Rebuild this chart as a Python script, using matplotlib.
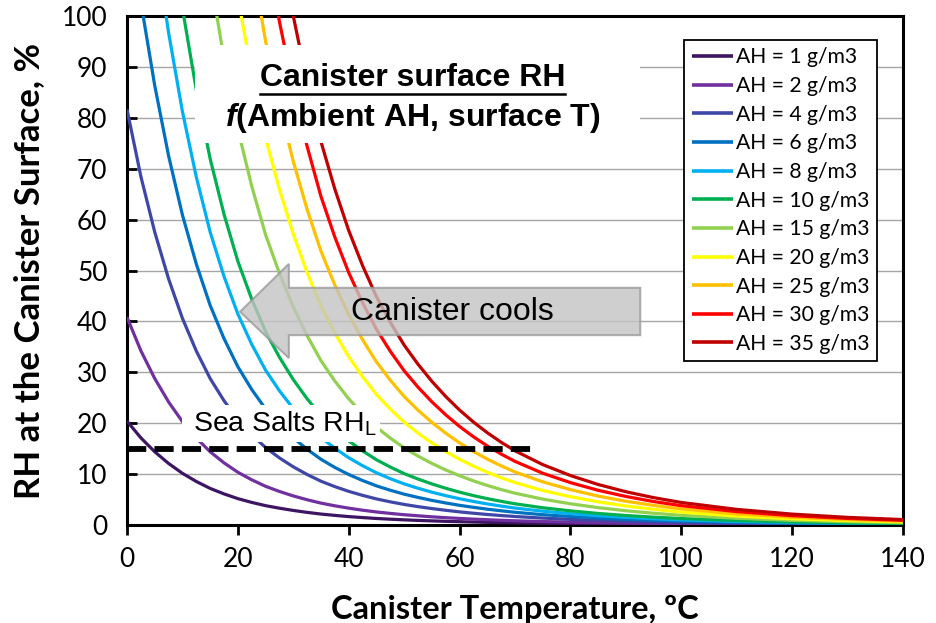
import numpy as np
import matplotlib
matplotlib.use("Agg")
import matplotlib.pyplot as plt
from matplotlib.patches import Polygon, Rectangle
from matplotlib.lines import Line2D

nan = np.nan

# surface temperature, degC
temp_c = [0, 2.5, 5, 7.5, 10, 12.5, 15, 17.5, 20, 22.5, 25, 27.5, 30, 32.5, 35,
          37.5, 40, 42.5, 45, 47.5, 50, 52.5, 55, 57.5, 60, 62.5, 65, 67.5, 70,
          75, 80, 85, 90, 95, 100, 110, 120, 130, 140]

# RH at the canister surface (%) for each ambient absolute humidity
rh_ah1 = [20.41, 17.12, 14.39, 12.09, 10.15, 8.55, 7.19, 6.11, 5.18, 4.44, 3.80, 3.30,
          2.86, 2.48, 2.15, 1.89, 1.65, 1.46, 1.28, 1.14, 1.01, 0.90, 0.81, 0.72, 0.65,
          0.58, 0.52, 0.46, 0.42, 0.34, 0.28, 0.23, 0.19, 0.15, 0.13, 0.09, 0.06, 0.04, 0.03]
rh_ah2 = [40.82, 34.24, 28.78, 24.18, 20.30, 17.09, 14.39, 12.21, 10.36, 8.88, 7.60, 6.59,
          5.71, 4.96, 4.30, 3.77, 3.31, 2.91, 2.56, 2.28, 2.02, 1.81, 1.61, 1.44, 1.29,
          1.16, 1.04, 0.93, 0.83, 0.68, 0.56, 0.45, 0.37, 0.31, 0.25, 0.18, 0.12, 0.09, 0.06]
rh_ah4 = [81.64, 68.48, 57.56, 48.36, 40.60, 34.19, 28.78, 24.42, 20.72, 17.75, 15.21, 13.18,
          11.43, 9.92, 8.60, 7.54, 6.61, 5.82, 5.13, 4.55, 4.04, 3.61, 3.23, 2.89, 2.58,
          2.31, 2.07, 1.86, 1.67, 1.36, 1.11, 0.91, 0.75, 0.62, 0.51, 0.35, 0.24, 0.17, 0.12]
rh_ah6 = [nan, 102.72, 86.34, 72.54, 60.90, 51.28, 43.16, 36.63, 31.09, 26.63, 22.81, 19.78,
          17.14, 14.87, 12.91, 11.31, 9.92, 8.74, 7.69, 6.83, 6.06, 5.42, 4.84, 4.33, 3.87,
          3.47, 3.11, 2.79, 2.50, 2.03, 1.67, 1.36, 1.12, 0.92, 0.76, 0.53, 0.37, 0.26, 0.18]
rh_ah8 = [nan, nan, 115.12, 96.72, 81.20, 68.38, 57.55, 48.84, 41.45, 35.50, 30.42, 26.37,
          22.86, 19.83, 17.21, 15.08, 13.22, 11.65, 10.26, 9.10, 8.08, 7.22, 6.45, 5.77, 5.16,
          4.62, 4.14, 3.72, 3.33, 2.71, 2.22, 1.82, 1.50, 1.23, 1.01, 0.70, 0.49, 0.34, 0.24]
rh_ah10 = [nan, nan, nan, nan, 101.50, 85.47, 71.94, 61.05, 51.81, 44.38, 38.02, 32.96,
           28.57, 24.79, 21.51, 18.85, 16.53, 14.56, 12.82, 11.38, 10.10, 9.03, 8.07, 7.22, 6.45,
           5.78, 5.18, 4.65, 4.17, 3.39, 2.78, 2.27, 1.87, 1.54, 1.27, 0.88, 0.61, 0.43, 0.31]
rh_ah15 = [nan, nan, nan, nan, nan, nan, 107.91, 91.58, 77.72, 66.57, 57.03, 49.44,
           42.86, 37.19, 32.27, 28.28, 24.80, 21.84, 19.23, 17.07, 15.15, 13.54, 12.10, 10.82, 9.68,
           8.67, 7.77, 6.97, 6.25, 5.09, 4.17, 3.41, 2.80, 2.31, 1.90, 1.32, 0.92, 0.64, 0.46]
rh_ah20 = [nan, nan, nan, nan, nan, nan, nan, nan, 103.62, 88.76, 76.04, 65.92,
           57.14, 49.58, 43.02, 37.70, 33.06, 29.12, 25.64, 22.76, 20.20, 18.05, 16.13, 14.43, 12.90,
           11.56, 10.36, 9.29, 8.33, 6.78, 5.56, 4.55, 3.74, 3.08, 2.53, 1.75, 1.22, 0.86, 0.61]
rh_ah25 = [nan, nan, nan, nan, nan, nan, nan, nan, nan, 110.95, 95.05, 82.40,
           71.43, 61.98, 53.78, 47.13, 41.33, 36.40, 32.05, 28.45, 25.25, 22.56, 20.16, 18.04, 16.13,
           14.45, 12.95, 11.62, 10.42, 8.48, 6.95, 5.68, 4.67, 3.85, 3.17, 2.19, 1.53, 1.07, 0.76]
rh_ah30 = [nan, nan, nan, nan, nan, nan, nan, nan, nan, nan, 114.06, 98.88,
           85.71, 74.37, 64.53, 56.55, 49.59, 43.68, 38.46, 34.14, 30.30, 27.08, 24.20, 21.65, 19.36,
           17.34, 15.54, 13.94, 12.50, 10.17, 8.33, 6.82, 5.61, 4.61, 3.80, 2.63, 1.83, 1.29, 0.92]
rh_ah35 = [nan, nan, nan, nan, nan, nan, nan, nan, nan, nan, nan, 115.36,
           100.00, 86.77, 75.29, 65.98, 57.86, 50.96, 44.87, 39.83, 35.35, 31.59, 28.23, 25.25, 22.58,
           20.23, 18.13, 16.26, 14.58, 11.87, 9.72, 7.96, 6.54, 5.38, 4.43, 3.07, 2.14, 1.50, 1.07]

ah_values = [1, 2, 4, 6, 8, 10, 15, 20, 25, 30, 35]
rh_series = [rh_ah1, rh_ah2, rh_ah4, rh_ah6, rh_ah8, rh_ah10,
             rh_ah15, rh_ah20, rh_ah25, rh_ah30, rh_ah35]
line_colors = ["#3e1562", "#7030a0", "#3f47a6", "#0070c0", "#00b0f0", "#00b050",
               "#92d050", "#ffff00", "#ffc000", "#ff0000", "#c00000"]

sea_salts_rhl = 15      # deliquescence RH of sea salts, %
sea_salts_tmax = 74.2

CAL = "Lato"
ARI = "Liberation Sans"
plt.rcParams["mathtext.fontset"] = "custom"
plt.rcParams["mathtext.rm"] = ARI
plt.rcParams["mathtext.it"] = ARI + ":italic:bold"

fig = plt.figure(figsize=(9.36, 6.23), dpi=100)
ax = fig.add_axes([0.1357, 0.1573, 0.829, 0.8170])

for ah, rh, c in zip(ah_values, rh_series, line_colors):
    ax.plot(temp_c, rh, color=c, lw=2.3, label=f"AH = {ah} g/m3", zorder=3,
            solid_capstyle="butt")

ax.set_xlim(0, 140)
ax.set_ylim(0, 100)
ax.set_xticks(range(0, 141, 20))
ax.set_yticks(range(0, 101, 10))
ax.yaxis.grid(True, color="#a6a6a6", lw=1.0)
ax.set_axisbelow(True)
for s in ax.spines.values():
    s.set_linewidth(2.2)
    s.set_color("black")
ax.tick_params(axis="x", direction="out", length=7, width=2, labelsize=19, pad=9)
ax.tick_params(axis="y", direction="in", length=7, width=2, labelsize=19, pad=14)
for lab in ax.get_xticklabels() + ax.get_yticklabels():
    lab.set_fontfamily(CAL)

ax.set_xlabel("Canister Temperature, ºC", fontfamily=CAL, fontweight="bold", fontsize=23.5)
ax.xaxis.set_label_coords(0.5, -0.138)
ax.set_ylabel("RH at the Canister Surface, %", fontfamily=CAL, fontweight="bold", fontsize=25)
ax.yaxis.set_label_coords(-0.105, 0.5)

# white panel behind the title text
ax.add_patch(Rectangle((12.3, 75.0), 80.3, 19.3, facecolor="white", edgecolor="none", zorder=4))
t1 = ax.text(51.5, 87.8, "Canister surface RH", fontfamily=ARI, fontweight="bold",
             fontsize=23, ha="center", va="center", zorder=5)
ax.text(51.5, 80.0, r"$\mathit{f}$(Ambient AH, surface T)", fontfamily=ARI,
        fontweight="bold", fontsize=23, ha="center", va="center", zorder=5)

# sea salt deliquescence threshold
ax.plot([0, sea_salts_tmax], [sea_salts_rhl, sea_salts_rhl], color="black", lw=4.2,
        dashes=(3.3, 1.4), zorder=6, solid_capstyle="butt", dash_capstyle="butt")
ax.add_patch(Rectangle((9.9, 16.4), 35.8, 7.2, facecolor="white", edgecolor="none", zorder=4))
ax.text(11.9, 19.8, r"Sea Salts RH$_\mathregular{L}$", fontfamily=ARI, fontsize=20.5,
        ha="left", va="center", zorder=5)

# "Canister cools" block arrow pointing to lower temperature
arrow = Polygon([(92.6, 46.6), (29.2, 46.6), (29.2, 51.3), (20.4, 41.9),
                 (29.2, 32.8), (29.2, 37.3), (92.6, 37.3)], closed=True,
                facecolor="#c4c4c4", edgecolor="#9a9a9a", lw=1.5, alpha=0.8, zorder=6)
ax.add_patch(arrow)
ax.text(58.7, 41.9, "Canister cools", fontfamily=ARI, fontsize=23, ha="center",
        va="center", zorder=7)

leg = ax.legend(loc="upper right", bbox_to_anchor=(0.9665, 0.953), borderaxespad=0,
                frameon=True, fancybox=False, edgecolor="black", framealpha=1,
                handlelength=1.95, handletextpad=0.15, labelspacing=0.41, borderpad=0.35,
                prop={"family": CAL, "size": 15.2})
leg.get_frame().set_linewidth(1.3)
leg.set_zorder(8)
for h in leg.get_lines():
    h.set_linewidth(2.6)

# underline the title
fig.canvas.draw()
bb = t1.get_window_extent(fig.canvas.get_renderer())
inv = fig.transFigure.inverted()
(x0, y0), (x1, _) = inv.transform([(bb.x0, bb.y0 - 1), (bb.x1, bb.y0 - 1)])
fig.add_artist(Line2D([x0, x1], [y0, y0], color="black", lw=1.8, zorder=10))

fig.savefig("out.png", dpi=100)
